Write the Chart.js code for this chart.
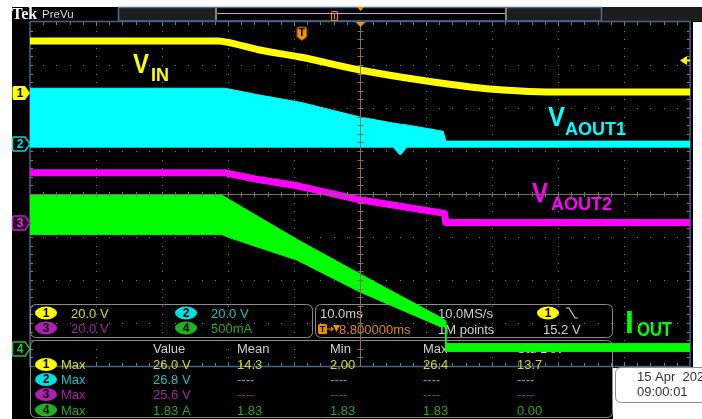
<!DOCTYPE html>
<html>
<head>
<meta charset="utf-8">
<script src="https://cdn.jsdelivr.net/npm/chart.js@4.4.1/dist/chart.umd.min.js"></script>
<style>
  html, body { margin: 0; padding: 0; background: #fff; }
  canvas { display: block; }
</style>
</head>
<body>
<canvas id="scope" width="702" height="419"></canvas>
<script>
// time base: 10 divisions of 10 ms around the expansion point
const timeMin = -50;
const timeMax = 50;
const triggerTime = -8.8;   // ms, the T marker
const triggerLevel = 15.2;  // V on channel 1

// channel setup
const channelLabels = ['1', '2', '3', '4'];
const channelScale = [20, 20, 20, 0.5];          // V/div, A/div for ch4
const channelPosition = [2.35, 1.16, -0.67, -3.6]; // ground marker, divisions above centre
const channelColors = ['#ffff00', '#00ffff', '#ff00ff', '#00ff00'];

// CH1 - VIN (V)
const vinTime = [-50, -21.5, -19.5, -15.2, -9.1, 0, 9.1, 16.7, 21.7, 28.3, 50];
const vinVolts = [24.2, 24.2, 23.2, 20.0, 16.7, 10.7, 6.0, 2.8, 1.4, 0.5, 0.5];

// CH2 - VAOUT1, switching envelope (V)
const aout1Time = [-50, -20.5, -15.2, -9.1, 0, 5.0, 6.1, 7.1, 12.6, 13.0, 50];
const aout1High = [26.0, 26.0, 22.8, 19.5, 12.6, 9.8, 9.3, 8.9, 6.0, 1.4, 1.4];
const aout1Low = [-1.4, -1.4, -1.4, -1.4, -1.4, -1.4, -5.1, -1.4, -1.4, -1.4, -1.4];

// CH3 - VAOUT2 (V)
const aout2Time = [-50, -20.5, -15.2, -9.5, 0, 12.8, 13.0, 50];
const aout2Volts = [23.3, 23.3, 20.0, 17.2, 10.7, 4.4, 0.1, 0.1];

// CH4 - IOUT envelope (A)
const ioutTime = [-50, -21.0, -19.7, -9.5, 0, 12.1, 12.9, 13.0, 50];
const ioutHigh = [1.79, 1.79, 1.73, 1.27, 0.87, 0.37, 0.33, 0.06, 0.06];
const ioutLow = [1.33, 1.33, 1.29, 1.03, 0.66, 0.26, 0.26, -0.03, -0.03];

// readouts
const verticalReadout = ['20.0 V', '20.0 V', '20.0 V', '500mA'];
const measHeaders = ['Value', 'Mean', 'Min', 'Max', 'Std Dev'];
const measRows = [
  ['26.0 V', '14.3', '2.00', '26.4', '13.7'],
  ['26.8 V', '----', '----', '----', '----'],
  ['25.6 V', '----', '----', '----', '----'],
  ['1.83 A', '1.83', '1.83', '1.83', '0.00']
];

const W = 702, H = 419;
const FF = '"Liberation Sans", Arial, sans-serif';
const badgeFill = ['#ffff00', '#00e0e0', '#b020b0', '#20b020'];
const textDim = ['#d8d820', '#20c0c0', '#a028a0', '#28a828'];

const pts = (xs, ys) => xs.map((t, i) => ({ x: t, y: ys[i] }));

function yAxis(i) {
  return {
    type: 'linear', display: false,
    min: -(4 + channelPosition[i]) * channelScale[i],
    max: (4 - channelPosition[i]) * channelScale[i]
  };
}

function rr(ctx, x, y, w, h, r) {
  ctx.beginPath();
  ctx.moveTo(x + r, y);
  ctx.lineTo(x + w - r, y);
  ctx.quadraticCurveTo(x + w, y, x + w, y + r);
  ctx.lineTo(x + w, y + h - r);
  ctx.quadraticCurveTo(x + w, y + h, x + w - r, y + h);
  ctx.lineTo(x + r, y + h);
  ctx.quadraticCurveTo(x, y + h, x, y + h - r);
  ctx.lineTo(x, y + r);
  ctx.quadraticCurveTo(x, y, x + r, y);
  ctx.closePath();
}

function badge(ctx, cx, cy, i) {
  ctx.beginPath();
  ctx.ellipse(cx, cy, 11, 6.5, 0, 0, Math.PI * 2);
  ctx.fillStyle = badgeFill[i];
  ctx.fill();
  ctx.fillStyle = '#000';
  ctx.font = 'bold 12px ' + FF;
  ctx.textAlign = 'center';
  ctx.textBaseline = 'middle';
  ctx.fillText(channelLabels[i], cx, cy + 0.5);
  ctx.textAlign = 'left';
}

function label(ctx, x, base, text, size, color, maxW) {
  ctx.fillStyle = color;
  ctx.font = 'bold ' + size + 'px ' + FF;
  ctx.textBaseline = 'alphabetic';
  ctx.textAlign = 'left';
  ctx.fillText(text, x, base, maxW);
}

const scopePlugin = {
  id: 'scope',
  beforeDraw(chart) {
    const { ctx, chartArea: a } = chart;
    ctx.save();
    ctx.fillStyle = '#fff';
    ctx.fillRect(0, 0, W, H);
    ctx.fillStyle = '#000';
    ctx.fillRect(12, 7, W - 12, 15);
    ctx.fillRect(12, 7, a.right + 3 - 12, a.bottom + 2 - 7);
    ctx.fillRect(12, a.bottom, 601, H - a.bottom);
    // record view bar
    ctx.fillStyle = '#1d1d1d';
    ctx.fillRect(119, 8, 97, 13);
    ctx.fillRect(506, 8, 95, 13);
    ctx.fillRect(602, 7, 100, 14);
    ctx.strokeStyle = '#4a6d9a';
    ctx.lineWidth = 1.5;
    ctx.strokeRect(118.5, 7.5, 483, 13.5);
    ctx.strokeStyle = '#c8c800';
    ctx.lineWidth = 1;
    ctx.beginPath(); ctx.moveTo(217, 13.5); ctx.lineTo(505, 13.5); ctx.stroke();
    ctx.fillStyle = '#8a8270';
    ctx.fillRect(215, 8, 2, 12);
    ctx.fillRect(505, 8, 2, 12);
    // Tek PreVu
    ctx.fillStyle = '#fff';
    ctx.font = 'bold 16px "Liberation Serif", serif';
    ctx.textBaseline = 'alphabetic';
    ctx.fillText('Tek', 12, 19);
    ctx.fillStyle = '#dcdcdc';
    ctx.font = '11.5px ' + FF;
    ctx.fillText('PreVu', 42, 18);
    ctx.restore();
  },
  beforeDatasetsDraw(chart) {
    const { ctx, chartArea: a, scales } = chart;
    const x = scales.x;
    const divH = (a.bottom - a.top) / 8;
    ctx.save();
    // dotted graticule
    ctx.fillStyle = '#7c7c7c';
    for (let k = 1; k < 10; k++) {
      const px = Math.round(x.getPixelForValue(timeMin + k * 10));
      for (let j = 0; j <= 40; j++) ctx.fillRect(px, Math.round(a.top + j * divH / 5), 1, 1);
    }
    for (let k = 1; k < 8; k++) {
      const py = Math.round(a.top + k * divH);
      for (let j = 0; j <= 50; j++) ctx.fillRect(Math.round(x.getPixelForValue(timeMin + j * 2)), py, 1, 1);
    }
    // border ticks
    ctx.fillStyle = '#7a7a7a';
    for (let j = 1; j < 50; j++) {
      const px = Math.round(x.getPixelForValue(timeMin + j * 2));
      const len = j % 5 === 0 ? 4 : 3;
      ctx.fillRect(px, a.top, 1, len);
      ctx.fillRect(px, a.bottom - len, 1, len);
    }
    for (let j = 1; j < 40; j++) {
      const py = Math.round(a.top + j * divH / 5);
      ctx.fillRect(a.left, py, 3, 1);
      ctx.fillRect(a.right - 3, py, 3, 1);
    }
    ctx.strokeStyle = '#44648c';
    ctx.lineWidth = 1.5;
    ctx.strokeRect(a.left, a.top - 0.5, a.right - a.left, a.bottom - a.top + 1);

    // vertical readout box
    ctx.strokeStyle = '#8c8c8c';
    ctx.lineWidth = 1;
    rr(ctx, 30.5, 304.5, 282, 33, 6); ctx.stroke();
    rr(ctx, 315.5, 304.5, 297, 33, 6); ctx.stroke();
    rr(ctx, 30.5, 340.5, 582, 77, 6); ctx.stroke();
    const rowA = [313, 313, 328, 328];
    const colA = [46, 186, 46, 186];
    [0, 1, 2, 3].forEach(i => {
      badge(ctx, colA[i], rowA[i], i);
      ctx.font = '13px ' + FF;
      ctx.fillStyle = textDim[i];
      ctx.textBaseline = 'middle';
      ctx.fillText(verticalReadout[i], colA[i] + 25, rowA[i] + 1);
    });

    // horizontal / trigger readout
    ctx.font = '13px ' + FF;
    ctx.textBaseline = 'middle';
    ctx.fillStyle = '#d0d0d0';
    ctx.fillText('10.0ms', 320, 314);
    ctx.fillText('10.0MS/s', 438, 314);
    ctx.fillText('1M points', 438, 330);
    ctx.fillText('15.2 V', 543, 330);
    badge(ctx, 548, 313, 0);
    ctx.strokeStyle = '#d0d0d0';
    ctx.lineWidth = 1.2;
    ctx.beginPath(); ctx.moveTo(566, 308); ctx.lineTo(569, 308); ctx.lineTo(575, 318); ctx.lineTo(578, 318); ctx.stroke();
    // T -> v 8.8 ms
    ctx.fillStyle = '#f08c00';
    rr(ctx, 318, 324, 9, 10, 1.5); ctx.fill();
    ctx.fillStyle = '#000';
    ctx.font = 'bold 9px ' + FF;
    ctx.textAlign = 'center';
    ctx.fillText('T', 322.5, 329.5);
    ctx.textAlign = 'left';
    ctx.strokeStyle = '#f08c00';
    ctx.lineWidth = 1.2;
    ctx.beginPath(); ctx.moveTo(327, 329); ctx.lineTo(333, 329); ctx.moveTo(331, 327); ctx.lineTo(333, 329); ctx.lineTo(331, 331); ctx.stroke();
    ctx.fillStyle = '#f08c00';
    ctx.beginPath(); ctx.moveTo(333, 325); ctx.lineTo(340, 325); ctx.lineTo(336.5, 332); ctx.closePath(); ctx.fill();
    ctx.font = '13px ' + FF;
    ctx.fillStyle = '#e08a10';
    ctx.fillText('8.800000ms', 339, 330);

    // measurement table
    const colX = [153, 237, 330, 423, 517];
    const rowY = [364.5, 379.5, 394.5, 410];
    ctx.fillStyle = '#d0d0d0';
    measHeaders.forEach((h, c) => ctx.fillText(h, colX[c], 349));
    measRows.forEach((row, r) => {
      badge(ctx, 46, rowY[r], r);
      ctx.font = '13px ' + FF;
      ctx.textBaseline = 'middle';
      ctx.fillStyle = textDim[r];
      ctx.fillText('Max', 61, rowY[r] + 1);
      row.forEach((v, c) => ctx.fillText(v, colX[c], rowY[r] + 1));
    });
    ctx.restore();
  },
  afterDatasetsDraw(chart) {
    const { ctx, chartArea: a, scales } = chart;
    const x = scales.x;
    const divH = (a.bottom - a.top) / 8;
    ctx.save();
    // centre cross lines
    const cx = Math.round(x.getPixelForValue(0)) + 0.5;
    const cy = Math.round(a.top + 4 * divH) + 0.5;
    ctx.strokeStyle = '#7d725c';
    ctx.lineWidth = 1;
    ctx.beginPath();
    ctx.moveTo(cx, a.top); ctx.lineTo(cx, a.bottom);
    ctx.moveTo(a.left, cy); ctx.lineTo(a.right, cy);
    ctx.stroke();
    ctx.fillStyle = '#7d725c';
    for (let j = 1; j < 50; j++) {
      const px = Math.round(x.getPixelForValue(timeMin + j * 2));
      ctx.fillRect(px, cy - 2.5, 1, 5);
    }
    for (let j = 1; j < 40; j++) {
      ctx.fillRect(cx - 3, Math.round(a.top + j * divH / 5), 6, 1);
    }

    // channel ground markers
    channelLabels.forEach((lab, i) => {
      const y = Math.round(scales['y' + (i + 1)].getPixelForValue(0));
      ctx.beginPath();
      ctx.moveTo(14, y - 7); ctx.lineTo(25, y - 7); ctx.lineTo(30, y); ctx.lineTo(25, y + 7); ctx.lineTo(14, y + 7);
      ctx.quadraticCurveTo(12.5, y + 7, 12.5, y + 5); ctx.lineTo(12.5, y - 5); ctx.quadraticCurveTo(12.5, y - 7, 14, y - 7);
      ctx.closePath();
      if (i === 0) {
        ctx.fillStyle = channelColors[0]; ctx.fill();
      } else {
        ctx.fillStyle = i === 2 ? '#2a002a' : '#000'; ctx.fill();
        ctx.strokeStyle = i === 2 ? '#c020c0' : (i === 1 ? '#00d8d8' : '#20c020');
        ctx.lineWidth = 1.5; ctx.stroke();
      }
      ctx.fillStyle = i === 0 ? '#000' : (i === 2 ? '#d040d0' : (i === 1 ? '#00e0e0' : '#20d020'));
      ctx.font = 'bold 12px ' + FF;
      ctx.textAlign = 'center'; ctx.textBaseline = 'middle';
      ctx.fillText(lab, 20, y + 1);
    });
    ctx.textAlign = 'left';

    // trigger level arrow (right edge)
    const ty = Math.round(scales.y1.getPixelForValue(triggerLevel)) + 0.5;
    ctx.fillStyle = '#ffff00';
    ctx.beginPath(); ctx.moveTo(680, ty); ctx.lineTo(687, ty - 4.5); ctx.lineTo(687, ty + 4.5); ctx.closePath(); ctx.fill();
    ctx.fillRect(686, ty - 1, 4, 2);

    // trigger position T
    const tx = x.getPixelForValue(triggerTime);
    ctx.beginPath();
    ctx.moveTo(tx - 5, 29); ctx.quadraticCurveTo(tx - 5, 27, tx - 3, 27); ctx.lineTo(tx + 3, 27);
    ctx.quadraticCurveTo(tx + 5, 27, tx + 5, 29); ctx.lineTo(tx + 5, 37); ctx.lineTo(tx, 40.5); ctx.lineTo(tx - 5, 37); ctx.closePath();
    ctx.fillStyle = '#f39200'; ctx.fill();
    ctx.strokeStyle = '#7a4000'; ctx.lineWidth = 1; ctx.stroke();
    ctx.fillStyle = '#000'; ctx.font = 'bold 11px ' + FF; ctx.textAlign = 'center'; ctx.textBaseline = 'middle';
    ctx.fillText('T', tx, 33);
    // expansion point triangles
    ctx.fillStyle = '#f39200';
    ctx.beginPath(); ctx.moveTo(cx - 5, a.top); ctx.lineTo(cx + 5, a.top); ctx.lineTo(cx, a.top + 5); ctx.closePath(); ctx.fill();
    ctx.beginPath(); ctx.moveTo(cx - 3.5, 7); ctx.lineTo(cx + 3.5, 7); ctx.lineTo(cx, 11); ctx.closePath(); ctx.fill();
    // small T in record view
    ctx.strokeStyle = '#f39200'; ctx.lineWidth = 1.2;
    rr(ctx, 331.5, 11.5, 6, 9, 1.5); ctx.stroke();
    ctx.beginPath(); ctx.moveTo(333, 13.5); ctx.lineTo(336, 13.5); ctx.moveTo(334.5, 13.5); ctx.lineTo(334.5, 19); ctx.stroke();
    ctx.textAlign = 'left';

    // trace names
    label(ctx, 133, 73, 'V', 28, channelColors[0], 16);
    label(ctx, 151, 81, 'IN', 19, channelColors[0], 18);
    label(ctx, 548, 126, 'V', 28, channelColors[1], 17);
    label(ctx, 565, 135, 'AOUT1', 18, channelColors[1], 62);
    label(ctx, 532, 202, 'V', 28, channelColors[2], 16);
    label(ctx, 551, 210, 'AOUT2', 18, channelColors[2], 61);
    label(ctx, 625, 333, 'I', 32, channelColors[3], 9);
    label(ctx, 637, 336, 'OUT', 21, channelColors[3], 35);

    // date box
    ctx.fillStyle = '#fff';
    rr(ctx, 615.5, 367.5, 100, 35, 6); ctx.fill();
    ctx.strokeStyle = '#8c8c8c'; ctx.lineWidth = 1; ctx.stroke();
    ctx.fillStyle = '#333';
    ctx.font = '13px ' + FF; ctx.textBaseline = 'middle';
    ctx.fillText('15 Apr  2020', 637, 377);
    ctx.fillText('09:00:01', 637, 392);
    ctx.restore();
  }
};

const line = (data, axis, color, width, fill, smooth) => ({
  data, yAxisID: axis, borderColor: color, backgroundColor: color,
  borderWidth: width, pointRadius: 0, fill: fill || false,
  cubicInterpolationMode: smooth ? 'monotone' : 'default', tension: 0,
  borderCapStyle: 'butt', borderJoinStyle: 'round'
});

new Chart(document.getElementById('scope').getContext('2d'), {
  type: 'line',
  data: {
    datasets: [
      line(pts(vinTime, vinVolts), 'y1', channelColors[0], 7, false, true),
      line(pts(aout1Time, aout1High), 'y2', channelColors[1], 1, '+1'),
      line(pts(aout1Time, aout1Low), 'y2', channelColors[1], 1),
      line(pts(aout2Time, aout2Volts), 'y3', channelColors[2], 7),
      line(pts(ioutTime, ioutHigh), 'y4', channelColors[3], 1, '+1'),
      line(pts(ioutTime, ioutLow), 'y4', channelColors[3], 1)
    ]
  },
  options: {
    responsive: false,
    animation: false,
    devicePixelRatio: 1,
    events: [],
    layout: { padding: { left: 30, right: 12, top: 22, bottom: 53 } },
    plugins: { legend: { display: false }, tooltip: { enabled: false } },
    scales: {
      x: { type: 'linear', display: false, min: timeMin, max: timeMax },
      y1: yAxis(0),
      y2: yAxis(1),
      y3: yAxis(2),
      y4: yAxis(3)
    }
  },
  plugins: [scopePlugin]
});
</script>
</body>
</html>
